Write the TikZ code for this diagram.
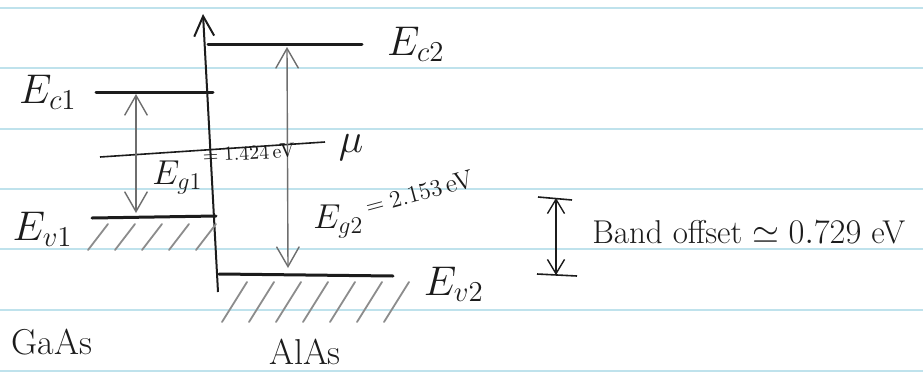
\documentclass[tikz,border=0pt]{standalone}
\usepackage{xcolor}
\usepackage{tikz}
\usetikzlibrary{positioning,arrows.meta,calc}
\definecolor{BDInk}{HTML}{1C1C1C}
\definecolor{BDGrey}{HTML}{6E6E6E}
\definecolor{BDHatch}{HTML}{8C8C8C}
\definecolor{BDPaper}{HTML}{BFE2EC}
\tikzset{
  bdlevel/.style={draw=BDInk,line width=1.5pt,line cap=round},
  bdaxis/.style={draw=BDInk,line width=1pt,-{Straight Barb[length=3.5mm,width=3.5mm]}},
  bdgap/.style={draw=BDGrey,line width=0.7pt,
    {Straight Barb[length=3.5mm,width=4mm]}-{Straight Barb[length=3.5mm,width=4mm]}},
  bdmu/.style={draw=BDInk,line width=0.8pt},
  bdhatch/.style={draw=BDHatch,line width=0.9pt,line cap=round},
  bdrule/.style={draw=BDPaper,line width=1.3pt},
  bdbar/.style={draw=BDInk,line width=0.8pt},
  bdoffset/.style={draw=BDInk,line width=0.7pt,
    {Straight Barb[length=2.5mm,width=3mm]}-{Straight Barb[length=2.5mm,width=3mm]}},
  bdlabel/.style={text=BDInk,inner sep=1pt,font=\fontsize{20}{24}\selectfont},
  bdgaplabel/.style={text=BDInk,inner sep=1pt,anchor=base west,font=\fontsize{17}{20}\selectfont},
  bdmat/.style={text=BDInk,inner sep=1pt,font=\fontsize{18}{22}\selectfont},
  bdnote/.style={text=BDInk,inner sep=1pt,font=\fontsize{16.5}{20}\selectfont},
}

\begin{document}
\begin{tikzpicture}[x=0.5pt,y=-0.5pt,node distance=5mm]
  \useasboundingbox (0,0) rectangle (923,381);
  \fill[white] (0,0) rectangle (923,381);

  % ruled paper
  \foreach \ry in {8,68,129,189,249,310,371}
    \draw[bdrule] (0,\ry) -- (923,\ry);

  % band edges
  \coordinate (ec1l) at (96,92);   \coordinate (ec1r) at (213,92);
  \coordinate (ev1l) at (92,218);  \coordinate (ev1r) at (216,216);
  \coordinate (ec2l) at (208,44);  \coordinate (ec2r) at (362,44);
  \coordinate (ev2l) at (219,274); \coordinate (ev2r) at (393,276);
  \coordinate (mul)  at (100,157); \coordinate (mur)  at (325,142);
  \coordinate (axb)  at (218,292); \coordinate (axt)  at (203,14);

  \draw[bdaxis] (axb) -- (axt);
  \draw[bdlevel] (ec1l) -- (ec1r);
  \draw[bdlevel] (ev1l) -- (ev1r);
  \draw[bdlevel] (ec2l) -- (ec2r);
  \draw[bdlevel] (ev2l) -- (ev2r);
  \draw[bdmu] (mul) -- (mur);

  \foreach \hx in {88,115,142,169,196}
    \draw[bdhatch] (\hx,250) -- ++(20,-26);
  \foreach \hx in {222,249,276,303,330,357,384}
    \draw[bdhatch] (\hx,322) -- ++(25,-40);

  \node[bdlabel,left=3mm of ec1l] (ec1) {$E_{c1}$};
  \node[bdlabel,left=3mm of ev1l,yshift=-2mm] (ev1) {$E_{v1}$};
  \node[bdlabel,right=4mm of ec2r] (ec2) {$E_{c2}$};
  \node[bdlabel,right=5mm of ev2r,yshift=-1.5mm] (ev2) {$E_{v2}$};
  \node[bdlabel,right=2mm of mur,yshift=-1mm] (mu) {$\mu$};

  % band gaps
  \coordinate (g1t) at (136,94);  \coordinate (g1b) at (136,213);
  \coordinate (g2t) at (287,47);  \coordinate (g2b) at (288,268);
  \draw[bdgap] (g1t) -- (g1b);
  \draw[bdgap] (g2t) -- (g2b);
  \node[bdgaplabel] (eg1) at (150,184)
    {$E_{g1}$\raisebox{1.5ex}{\rotatebox{3}{\fontsize{10}{12}\selectfont$=1.424\,$eV}}};
  \node[bdgaplabel] (eg2) at (311,228)
    {$E_{g2}$\raisebox{0.9ex}{\rotatebox{15}{\fontsize{13}{15}\selectfont$=2.153\,$eV}}};

  % band offset
  \coordinate (bot) at (556,198); \coordinate (bob) at (556,275);
  \draw[bdbar] ($(bot)+(-18,-1)$) -- ($(bot)+(16,2)$);
  \draw[bdbar] ($(bob)+(-19,-1)$) -- ($(bob)+(21,1)$);
  \draw[bdoffset] (bot) -- (bob);
  \node[bdnote,anchor=west] (offset) at (590,232)
    {Band offset $\simeq 0.729$ eV};

  \node[bdmat] (gaas) at (52,342) {GaAs};
  \node[bdmat] (alas) at (305,352) {AlAs};
\end{tikzpicture}
\end{document}
